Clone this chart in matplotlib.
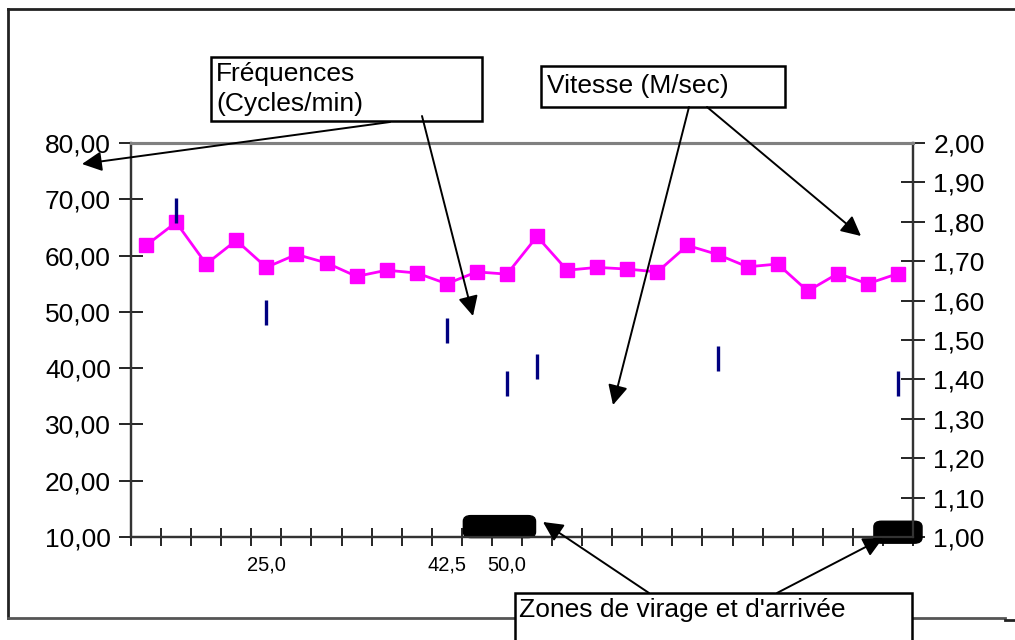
import numpy as np
import matplotlib
matplotlib.use("Agg")
import matplotlib.pyplot as plt
from matplotlib.patches import FancyBboxPatch, FancyArrowPatch, Rectangle
from matplotlib.ticker import FuncFormatter, MultipleLocator, FixedLocator

plt.rcParams['font.family'] = ['Liberation Sans', 'DejaVu Sans']

# data
x_labels = ["", "", "", "", "25,0", "", "", "", "", "", "42,5", "", "50,0",
            "", "", "", "", "", "", "", "", "", "", "", "", ""]
frequences = [61.8, 65.9, 58.5, 62.7, 57.9, 60.2, 58.7, 56.3, 57.4, 56.9, 55.0, 57.1, 56.7,
              63.4, 57.4, 57.9, 57.6, 57.1, 61.8, 60.2, 58.0, 58.5, 53.7, 56.8, 55.0, 56.8]
vitesse = [np.nan, 1.83, np.nan, np.nan, 1.57, np.nan, np.nan, np.nan, np.nan, np.nan, 1.525, np.nan,
           1.39, 1.435, np.nan, np.nan, np.nan, np.nan, np.nan, 1.455, np.nan, np.nan, np.nan,
           np.nan, np.nan, 1.39]
# turn / finish zones (category index start, end)
zones = [(10.55, 12.95), (24.2, 25.8)]

W, H = 1015, 640
fig = plt.figure(figsize=(W / 100, H / 100), dpi=100)


def fx(px, py):
    return (px / W, 1 - py / H)


ax = fig.add_axes([131 / W, 1 - 537 / H, (913 - 131) / W, (537 - 143) / H])
ax2 = ax.twinx()

xs = np.arange(len(frequences))
ax.plot(xs, frequences, color='#FF00FF', lw=2.0, marker='s', ms=10.5, mec='#FF00FF', zorder=3)
ax2.plot(xs, vitesse, ls='none', marker='|', ms=18, mew=2.4, color='#000080', zorder=4)

ax.set_xlim(-0.5, len(frequences) - 0.5)
ax.set_ylim(10, 80)
ax2.set_ylim(1.0, 2.0)
ax.yaxis.set_major_locator(MultipleLocator(10))
ax2.yaxis.set_major_locator(MultipleLocator(0.1))
ax.yaxis.set_major_formatter(FuncFormatter(lambda v, p: f"{v:.2f}".replace('.', ',')))
ax2.yaxis.set_major_formatter(FuncFormatter(lambda v, p: f"{v:.2f}".replace('.', ',')))

ax.set_xticks(xs)
ax.set_xticklabels(x_labels)
ax.xaxis.set_minor_locator(FixedLocator(np.arange(-0.5, len(frequences), 1.0)))
ax.tick_params(axis='x', which='major', length=0, pad=13, labelsize=14.5)
ax.tick_params(axis='x', which='minor', length=13, direction='inout', width=1.2)
ax.tick_params(axis='y', length=17, direction='inout', width=1.2, pad=6, labelsize=19)
ax2.tick_params(axis='y', length=17, direction='inout', width=1.2, pad=6, labelsize=19)

for a in (ax, ax2):
    a.spines['top'].set_color('#808080')
    a.spines['top'].set_linewidth(2.2)
    for s in ('left', 'right', 'bottom'):
        a.spines[s].set_color('#333333')
        a.spines[s].set_linewidth(1.6)
ax.patch.set_visible(False)

# black rounded bars for the zones
for x0, x1 in zones[:1]:
    ax.add_patch(FancyBboxPatch((x0, 9.9), x1 - x0, 3.9, boxstyle="round,pad=0,rounding_size=0.25",
                                fc='black', ec='black', clip_on=False, zorder=6,
                                mutation_aspect=4))
for x0, x1 in zones[1:]:
    ax.add_patch(FancyBboxPatch((x0, 8.9), x1 - x0, 3.9, boxstyle="round,pad=0,rounding_size=0.25",
                                fc='black', ec='black', clip_on=False, zorder=6,
                                mutation_aspect=4))

# outer chart border (open on the right)
fig.add_artist(plt.Line2D([7.5 / W, 1.0], [1 - 8.5 / H] * 2, color='#222222', lw=2))
fig.add_artist(plt.Line2D([7.5 / W, 7.5 / W], [1 - 8.5 / H, 1 - 618 / H], color='#222222', lw=2))
fig.add_artist(plt.Line2D([7.5 / W, 1005 / W], [1 - 618 / H] * 2, color='#555555', lw=2))
fig.add_artist(plt.Line2D([1005 / W, 1.0], [1 - 620 / H] * 2, color='#222222', lw=2))


def box(x0, y0, x1, y1):
    r = Rectangle(fx(x0, y1), (x1 - x0) / W, (y1 - y0) / H, transform=fig.transFigure,
                  fc='white', ec='black', lw=1.8, zorder=10)
    fig.add_artist(r)


def arrow(p0, p1):
    a = FancyArrowPatch(fx(*p0), fx(*p1), transform=fig.transFigure, arrowstyle='-|>',
                        mutation_scale=30, lw=1.4, color='black', shrinkA=0, shrinkB=0, zorder=11)
    fig.add_artist(a)


box(211, 57, 482, 121)
fig.text(*fx(216, 89), "Fréquences\n(Cycles/min)", fontsize=19, va='center', ha='left',
         linespacing=1.3, zorder=12)
box(541, 66, 785, 107)
fig.text(*fx(547, 86), "Vitesse (M/sec)", fontsize=19, va='center', ha='left', zorder=12)
box(515, 593, 912, 660)
fig.text(*fx(519, 610), "Zones de virage et d'arrivée", fontsize=19, va='center', ha='left',
         zorder=12)

arrow((390, 122), (82, 164))
arrow((422, 116), (473, 316))
arrow((689, 107), (613, 405))
arrow((707, 107), (861, 236))
arrow((649, 593), (543, 522))
arrow((777, 593), (883, 538))

fig.savefig("out.png", dpi=100)
